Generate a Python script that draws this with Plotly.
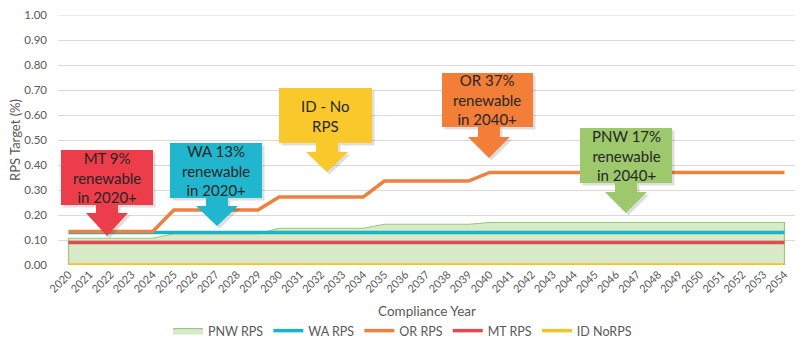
import plotly.graph_objects as go

# ---------------- data ----------------
years = list(range(2020, 2055))
pnw_rps = [0.107] * 5 + [0.125] * 5 + [0.147] * 5 + [0.163] * 5 + [0.170] * 15
wa_rps = [0.13] * 35
or_rps = [0.134] * 5 + [0.22] * 5 + [0.272] * 5 + [0.336] * 5 + [0.37] * 15
mt_rps = [0.09] * 35
id_rps = [0.0] * 35
y_ticks = [i / 10 for i in range(11)]

callouts = [
    # text, colour, box (x0, x1, y0, y1) in window pixels, arrow centre x, head top y, tip y
    ("MT 9%<br>renewable<br>in 2020+", "#EE3D4A", (61, 153, 150, 205), 107, 213, 236),
    ("WA 13%<br>renewable<br>in 2020+", "#20B6CD", (170, 262, 143, 198), 217, 206, 226),
    ("ID - No<br>RPS", "#F9C82A", (279, 372, 88, 143), 327, 152, 172),
    ("OR 37%<br>renewable<br>in 2040+", "#F37E38", (442, 533, 73, 127), 489, 137, 158),
    ("PNW 17%<br>renewable<br>in 2040+", "#9DC86C", (580, 672, 128, 183), 626, 192, 213),
]

# ---------------- layout constants (window pixel coords) ----------------
WIN_W, WIN_H = 805, 359
OFF = 8                      # default page body margin
PLOT_X0, PLOT_X1 = 58, 795   # plot area in window coords
PLOT_Y0, PLOT_Y1 = 15, 265
W, H = WIN_W - OFF, WIN_H - OFF
L, T = PLOT_X0 - OFF, PLOT_Y0 - OFF
R, B = WIN_W - PLOT_X1, WIN_H - PLOT_Y1
PW, PH = PLOT_X1 - PLOT_X0, PLOT_Y1 - PLOT_Y0
FONT = "Lato, 'Open Sans', sans-serif"
GREY = "#595959"


def px(xp):
    return (xp - PLOT_X0) / PW


def py(yp):
    return (PLOT_Y1 - yp) / PH


fig = go.Figure()

# PNW area (closed polygon so that it has vertical edges like the original)
fig.add_trace(go.Scatter(
    x=[years[0]] + years + [years[-1], years[0]],
    y=[0] + pnw_rps + [0, 0],
    fill="toself", fillcolor="rgba(196,222,170,0.65)",
    line=dict(color="#9BC77E", width=1.2),
    mode="lines", name="PNW RPS", hoverinfo="skip",
))
fig.add_trace(go.Scatter(x=years, y=wa_rps, mode="lines", name="WA RPS",
                         line=dict(color="#19B4C8", width=3.5)))
fig.add_trace(go.Scatter(x=years, y=or_rps, mode="lines", name="OR RPS",
                         line=dict(color="#EE8040", width=3.5)))
fig.add_trace(go.Scatter(x=years, y=mt_rps, mode="lines", name="MT RPS",
                         line=dict(color="#E44A4D", width=3.5)))
fig.add_trace(go.Scatter(x=years, y=id_rps, mode="lines", name="ID NoRPS",
                         line=dict(color="#F2C32B", width=3.5)))

shapes = [dict(type="line", xref="paper", yref="y", x0=0, x1=1, y0=y_ticks[-1],
               y1=y_ticks[-1], line=dict(color="#D9D9D9", width=1), layer="below")]
annotations = []
SHAFT_HW, HEAD_HW = 11, 21
for text, col, (x0, x1, y0, y1), cx, hy, ty in callouts:
    pts = [(x0, y0), (x1, y0), (x1, y1), (cx + SHAFT_HW, y1), (cx + SHAFT_HW, hy),
           (cx + HEAD_HW, hy), (cx, ty), (cx - HEAD_HW, hy), (cx - SHAFT_HW, hy),
           (cx - SHAFT_HW, y1), (x0, y1)]
    sh = 2.5
    pts_s = [(a + sh, b + sh) for a, b in pts]
    for p, fc in ((pts_s, "rgba(0,0,0,0.13)"), (pts, col)):
        path = "M " + " L ".join(f"{px(a):.5f},{py(b):.5f}" for a, b in p) + " Z"
        shapes.append(dict(type="path", path=path, xref="paper", yref="paper",
                           fillcolor=fc, line=dict(width=0), layer="above"))
    annotations.append(dict(
        x=px((x0 + x1) / 2), y=py((y0 + y1) / 2), xref="paper", yref="paper",
        text=text, showarrow=False, xanchor="center", yanchor="middle",
        font=dict(family=FONT, size=15, color="#262626"),
    ))

# axis titles
annotations.append(dict(text="Compliance Year", x=px((PLOT_X0 + PLOT_X1) / 2), y=py(311),
                        xref="paper", yref="paper", showarrow=False,
                        font=dict(family=FONT, size=13.5, color=GREY),
                        xanchor="center", yanchor="middle"))
annotations.append(dict(text="RPS Target (%)", x=px(15), y=py(140),
                        xref="paper", yref="paper", showarrow=False, textangle=-90,
                        font=dict(family=FONT, size=13, color=GREY),
                        xanchor="center", yanchor="middle"))

fig.update_layout(
    width=W, height=H,
    margin=dict(l=L, r=R, t=T, b=B, autoexpand=False),
    paper_bgcolor="white", plot_bgcolor="white",
    font=dict(family=FONT, size=12, color=GREY),
    shapes=shapes, annotations=annotations,
    showlegend=True,
    legend=dict(orientation="h", xref="container", yref="container",
                x=(WIN_W / 2 - OFF) / W, xanchor="center",
                y=1 - (331 - OFF) / H, yanchor="middle",
                font=dict(family=FONT, size=12.5, color=GREY),
                itemwidth=30, tracegroupgap=0, bgcolor="rgba(0,0,0,0)"),
    hovermode=False,
)
fig.update_xaxes(
    range=[years[0] - 0.5, years[-1] + 0.5], tickmode="array",
    tickvals=years, ticktext=[str(y) for y in years], tickangle=-45,
    tickfont=dict(family=FONT, size=11, color=GREY), showgrid=False,
    zeroline=False, showline=False, ticks="", automargin=False,
    ticklabeloverflow="allow",
)
fig.update_yaxes(
    range=[0, 1], tickmode="array", tickvals=y_ticks,
    ticktext=[f"{v:.2f}" for v in y_ticks],
    tickfont=dict(family=FONT, size=11.5, color=GREY),
    showgrid=True, gridcolor="#D9D9D9", gridwidth=1, zeroline=False,
    showline=False, ticks="", ticklabelstandoff=10, automargin=False,
    ticklabeloverflow="allow",
)

fig.write_html("out.html")
